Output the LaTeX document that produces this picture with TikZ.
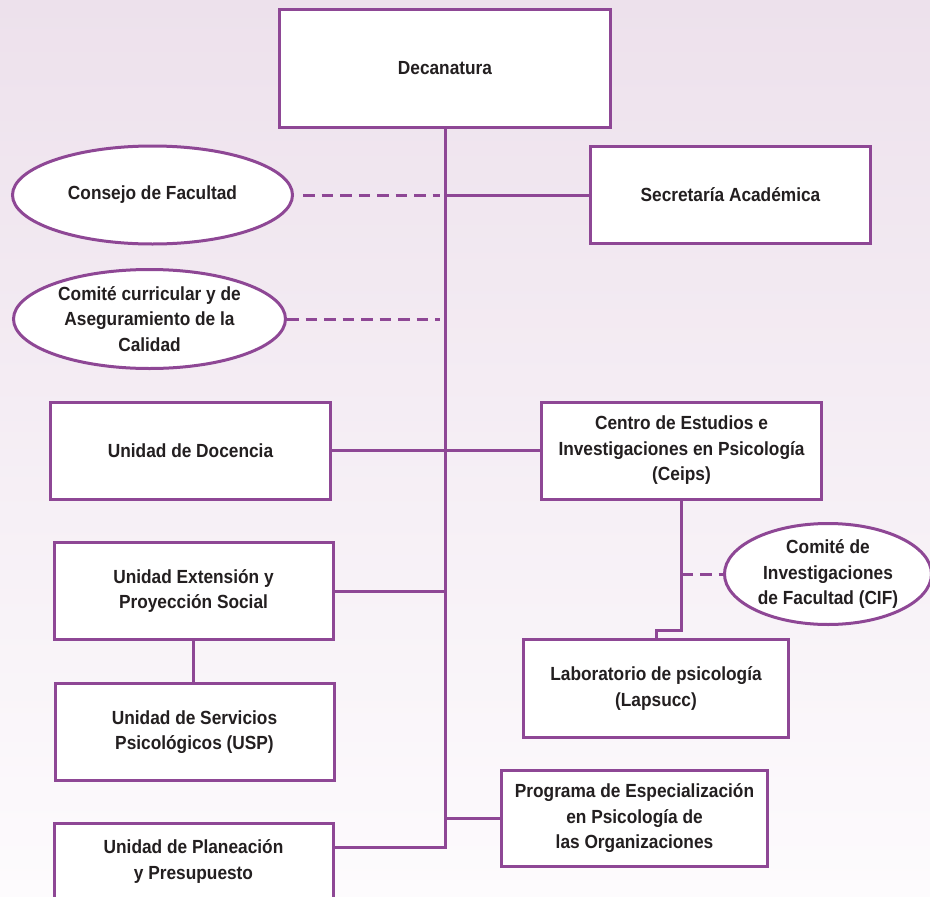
\documentclass[tikz,border=0pt]{standalone}
\usepackage{fontspec}
\setmainfont{Liberation Sans}[FakeStretch=0.91]
\usepackage{tikz}
\usetikzlibrary{shapes.geometric}
\definecolor{lila}{RGB}{142,71,149}
\definecolor{tinta}{RGB}{35,31,32}
\definecolor{fondoarriba}{RGB}{237,225,236}
\definecolor{fondoabajo}{RGB}{253,251,253}
\tikzset{caja/.style={draw=lila,line width=3pt,fill=white,rectangle,inner sep=0pt,align=center},
	elipse/.style={draw=lila,line width=3pt,fill=white,ellipse,inner sep=0pt,align=center},
	enlace/.style={draw=lila,line width=3pt},
	enlacepunteado/.style={draw=lila,line width=3pt,dash pattern=on 11.5pt off 7pt},
}

\begin{document}
\begin{tikzpicture}[x=1pt,y=-1pt]
			\tikzstyle{every node}=[font=\fontsize{19}{25.5}\selectfont\bfseries,text=tinta]
			\useasboundingbox (0,0) rectangle (930,897);
			\fill[top color=fondoarriba,bottom color=fondoabajo] (0,0) rectangle (930,897);
			
			\node[caja,minimum width=331pt,minimum height=118pt] (deca) at (445,68.5) {Decanatura};
			\node[caja,minimum width=280pt,minimum height=97pt] (secretaria) at (730.5,195) {Secretaría Académica};
			\node[elipse,minimum width=280pt,minimum height=98pt] (consejo) at (152.5,195) {Consejo de Facultad};
			\node[elipse,minimum width=272pt,minimum height=99pt] (comite) at (149.5,319) {Comité curricular y de\\Aseguramiento de la\\Calidad};
			\node[caja,minimum width=280pt,minimum height=97pt] (docencia) at (190.5,450.5) {Unidad de Docencia};
			\node[caja,minimum width=280pt,minimum height=97pt] (centro) at (681.5,450.5) {Centro de Estudios e\\Investigaciones en Psicología\\(Ceips)};
			\node[elipse,minimum width=207pt,minimum height=101pt] (cif) at (828,574) {Comité de\\Investigaciones\\de Facultad (CIF)};
			\node[caja,minimum width=265pt,minimum height=98pt] (lab) at (656,688.5) {Laboratorio de psicología\\(Lapsucc)};
			\node[caja,minimum width=279pt,minimum height=97pt] (extension) at (193.5,591) {Unidad Extensión y\\Proyección Social};
			\node[caja,minimum width=279pt,minimum height=97pt] (servicios) at (194.5,732) {Unidad de Servicios\\Psicológicos (USP)};
			\node[caja,minimum width=266pt,minimum height=96pt] (programa) at (634.5,818.5) {Programa de Especialización\\en Psicología de\\las Organizaciones};
			\node[caja,minimum width=279pt,minimum height=77pt] (plan) at (193.5,861.5) {Unidad de Planeación\\y Presupuesto};
			
			\coordinate (tplan) at ([yshift=14pt]plan.east);
			\draw[enlace] (deca.south) |- (tplan);
			\draw[enlace] (secretaria.west -| deca.south) -- (secretaria.west);
			\draw[enlace] (docencia.east) -- (centro.west);
			\draw[enlace] (extension.east) -- (extension.east -| deca.south);
			\draw[enlace] (extension.south) -- (servicios.north -| extension.south);
			\draw[enlace] (programa.west -| deca.south) -- (programa.west);
			\draw[enlace] (centro.south) |- ([yshift=8pt]lab.north) -- (lab.north);
			
			\draw[enlacepunteado,shorten <=9pt,shorten >=5pt] (consejo.east) -- (consejo.east -| deca.south);
			\draw[enlacepunteado,shorten >=5pt] (comite.east) -- (comite.east -| deca.south);
			\draw[enlacepunteado] (cif.west -| centro.south) -- (cif.west);
\end{tikzpicture}
\end{document}
